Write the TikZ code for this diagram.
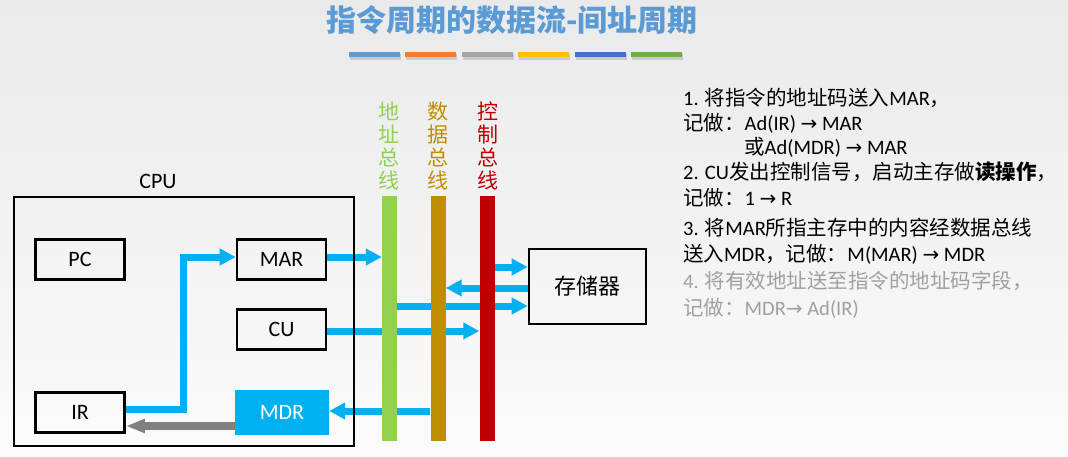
\documentclass[tikz,border=0pt]{standalone}
\usepackage{fontspec}
\setmainfont{Carlito}
\newfontfamily\cjk{Noto Sans CJK SC}
\newfontfamily\sym{DejaVu Sans}
\usetikzlibrary{arrows.meta,shadows}
\pgfdeclarelayer{bg}\pgfdeclarelayer{flow}
\pgfsetlayers{bg,flow,main}
\definecolor{titleblue}{RGB}{91,155,213}
\definecolor{flowblue}{RGB}{0,176,240}
\definecolor{backgray}{RGB}{128,128,128}
\definecolor{busgreen}{RGB}{146,208,80}
\definecolor{busgold}{RGB}{191,143,0}
\definecolor{busred}{RGB}{192,0,0}
\definecolor{txtgray}{RGB}{160,160,160}
\definecolor{bgtop}{RGB}{234,234,234}
\definecolor{bgbot}{RGB}{251,251,251}
\definecolor{st1}{RGB}{91,155,213}
\definecolor{st2}{RGB}{237,125,49}
\definecolor{st3}{RGB}{165,165,165}
\definecolor{st4}{RGB}{255,192,0}
\definecolor{st5}{RGB}{68,114,196}
\definecolor{st6}{RGB}{112,173,71}
\newcommand\zh[1]{{\cjk #1}}
\newcommand\ar{{\sym\fontsize{20}{24}\selectfont →}}
\begin{document}
\begin{tikzpicture}[x=1pt,y=-1pt,
  reg/.style={draw=black,line width=2.6pt,minimum width=89pt,minimum height=40pt,inner sep=0pt,font=\fontsize{22}{26}\selectfont},
  bus/.style={minimum width=15pt,minimum height=245pt,inner sep=0pt,draw=none},
  buslab/.style={align=center,font=\cjk\fontsize{21}{22.7}\selectfont,inner sep=0pt},
  flow/.style={draw=flowblue,line width=7pt,-{Triangle[length=16pt,width=16pt]}},
  back/.style={draw=backgray,line width=8pt,-{Triangle[length=19pt,width=13pt]}},
  txt/.style={anchor=base west,inner sep=0pt,font=\fontsize{20.5}{24}\selectfont},
  stripe/.style={minimum width=51pt,minimum height=5.5pt,inner sep=0pt,drop shadow={shadow xshift=1pt,shadow yshift=-2.5pt,opacity=0.3}}
]
\begin{pgfonlayer}{bg}
\shade[top color=bgtop,bottom color=bgbot] (0,0) rectangle (1068,457);
\end{pgfonlayer}
\useasboundingbox (0,0) rectangle (1068,457);

% title and stripes
\node[font=\cjk\bfseries\fontsize{30}{34}\selectfont,text=titleblue,inner sep=0pt] (title) at (512,20) {指令周期的数据流-间址周期};
\foreach \i in {1,...,6} {
  \node[stripe,fill=st\i] (s\i) at (318.1+56.4*\i,54.5) {};
}

% CPU
\node[draw=black,line width=2.6pt,minimum width=340pt,minimum height=249pt,inner sep=0pt] (cpu) at (184,321.5) {};
\node[font=\fontsize{22}{26}\selectfont,inner sep=0pt] (cpulab) at (158,181) {CPU};
\node[reg] (PC) at (80,259.5) {PC};
\node[reg] (MAR) at (281.5,259.5) {MAR};
\node[reg] (CU) at (281.5,329.5) {CU};
\node[reg] (IR) at (80,412.5) {IR};
\node[fill=flowblue,minimum width=94pt,minimum height=45pt,inner sep=0pt,text=white,font=\fontsize{22}{26}\selectfont] (MDR) at (282,412.5) {MDR};

% buses
\node[bus,fill=busgreen] (abus) at (389.5,318.5) {};
\node[bus,fill=busgold] (dbus) at (438,318.5) {};
\node[bus,fill=busred] (cbus) at (487,318.5) {};
\node[buslab,text=busgreen] (alab) at (388.5,146) {地\\址\\总\\线};
\node[buslab,text=busgold] (dlab) at (437.5,146) {数\\据\\总\\线};
\node[buslab,text=busred] (clab) at (487.5,146) {控\\制\\总\\线};

% memory
\node[draw=black,line width=2.6pt,minimum width=117pt,minimum height=75pt,inner sep=0pt,font=\cjk\fontsize{22}{26}\selectfont] (mem) at (587.5,286.5) {存储器};

% connectors
\coordinate (m1) at ([yshift=19.5pt]mem.west);
\coordinate (m2) at ([yshift=-1.5pt]mem.west);
\coordinate (m3) at ([yshift=-19.5pt]mem.west);
\coordinate (mar1) at ([yshift=2.5pt]MAR.east);
\coordinate (mar2) at ([yshift=2.5pt]MAR.west);
\coordinate (ir1) at ([yshift=3.5pt]IR.east);
\coordinate (cu1) at ([yshift=-1.5pt]CU.east);
\coordinate (mdr1) at ([yshift=1.5pt]MDR.east);
\coordinate (mdr2) at ([yshift=-13.5pt]MDR.west);
\begin{pgfonlayer}{flow}
\draw[flow] (ir1) -- ++(58,0) |- (mar2);
\draw[flow] (mar1) -- (mar1 -| abus.west);
\draw[flow] (m1 -| cbus.east) -- (m1);
\draw[flow] (m2) -- (m2 -| dbus.east);
\draw[flow] (m3 -| abus.east) -- (m3);
\draw[flow] (cu1) -- (cu1 -| cbus.west);
\draw[flow] (mdr1 -| dbus.west) -- (mdr1);
\draw[back] (mdr2) -- (mdr2 -| IR.east);
\end{pgfonlayer}

% right text
\node[txt] (t1) at (683,106) {1. \zh{将指令的地址码送入}MAR\zh{，}};
\node[txt] (t2) at (683,131) {\zh{记做：}Ad(IR) \ar{} MAR};
\node[txt] (t3) at (744,155) {\zh{或}Ad(MDR) \ar{} MAR};
\node[txt] (t4) at (683,180) {2. CU\zh{发出控制信号，启动主存做}\zh{\bfseries 读操作}\zh{，}};
\node[txt] (t5) at (683,206) {\zh{记做：}1 \ar{} R};
\node[txt] (t6) at (683,236) {3. \zh{将}MAR\zh{所指主存中的内容经数据总线}};
\node[txt] (t7) at (683,261) {\zh{送入}MDR\zh{，记做：}M(MAR) \ar{} MDR};
\node[txt,text=txtgray] (t8) at (683,288) {4. \zh{将有效地址送至指令的地址码字段，}};
\node[txt,text=txtgray] (t9) at (683,315) {\zh{记做：}MDR\ar{} Ad(IR)};
\end{tikzpicture}
\end{document}
